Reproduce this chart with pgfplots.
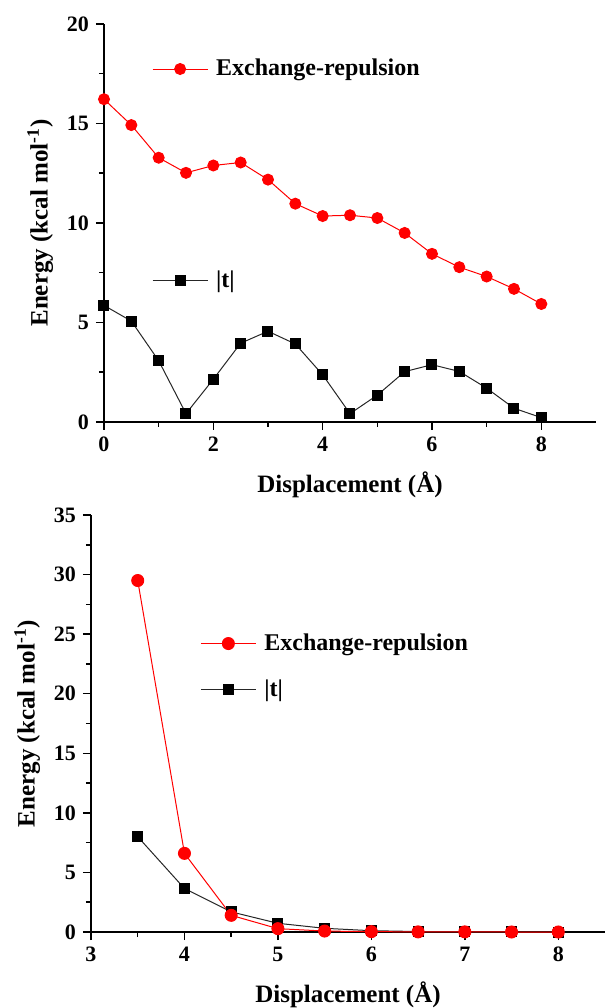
\documentclass[border=0pt]{standalone}
\usepackage{fontspec}
\setmainfont{Liberation Serif}
\usepackage{pgfplots}
\pgfplotsset{compat=1.18}

\pgfplotsset{
  panel/.style={
    scale only axis,
    axis lines=left,
    axis line style={-, line width=1pt},
    enlargelimits=false,
    clip=false,
    tick align=outside,
    major tick length=4pt,
    minor tick length=2.5pt,
    every tick/.style={line width=0.75pt, black},
    minor x tick num=1,
    minor y tick num=1,
    /pgf/number format/assume math mode=true,
    tick label style={font=\fontsize{11}{11}\selectfont\bfseries},
    label style={font=\fontsize{12.5}{12.5}\selectfont\bfseries},
    xlabel style={yshift=-3pt},
    xlabel={Displacement (Å)},
    ylabel={Energy (kcal mol\textsuperscript{-1})},
    legend image code/.code={\draw[mark repeat=2,mark phase=2,##1] plot coordinates {(0pt,0pt) (13.75pt,0pt) (27.5pt,0pt)};},
    reverse legend,
    legend cell align=left,
  },
  tser/.style={black!85, line width=0.5pt, mark=square*, mark size=2.5pt, mark options={solid, fill=black, draw=black}},
  eser/.style={red, line width=0.5pt, mark=*, mark size=2.75pt, mark options={solid, fill=red, draw=red}},
}

\begin{document}
\begin{tikzpicture}
\useasboundingbox (0,0) rectangle (303pt,504pt);

% top panel: slipping along the long axis
\begin{axis}[panel,
  at={(52pt,293pt)}, anchor=south west,
  width=246pt, height=199pt,
  xmin=0, xmax=9, ymin=0, ymax=20,
  xtick={0,2,4,6,8}, ytick={0,5,10,15,20},
  legend style={draw=none, fill=none, at={(0.097,0.621)}, anchor=west,
    inner sep=0pt, row sep=96pt, column sep=4pt,
    nodes={inner sep=0pt},
    font=\fontsize{12}{12}\selectfont\bfseries},
]
\addplot[tser] coordinates {(0,5.86) (0.5,5.07) (1,3.08) (1.5,0.42) (2,2.15) (2.5,3.96) (3,4.56) (3.5,3.92) (4,2.37) (4.5,0.42) (5,1.35) (5.5,2.53) (6,2.88) (6.5,2.54) (7,1.70) (7.5,0.69) (8,0.22)};
\addlegendentry{|t|}
\addplot[eser] coordinates {(0,16.22) (0.5,14.92) (1,13.28) (1.5,12.52) (2,12.89) (2.5,13.04) (3,12.18) (3.5,10.97) (4,10.35) (4.5,10.39) (5,10.25) (5.5,9.50) (6,8.45) (6.5,7.78) (7,7.31) (7.5,6.69) (8,5.93)};
\addlegendentry{Exchange-repulsion}
\end{axis}

% bottom panel: separation
\begin{axis}[panel,
  at={(45.5pt,38pt)}, anchor=south west,
  width=257pt, height=208.5pt,
  xmin=3, xmax=8.5, ymin=0, ymax=35,
  xtick={3,4,5,6,7,8}, ytick={0,5,10,15,20,25,30,35},
  legend style={draw=none, fill=none, at={(0.212,0.637)}, anchor=west,
    inner sep=0pt, row sep=13pt, column sep=4pt,
    nodes={inner sep=0pt},
    font=\fontsize{12}{12}\selectfont\bfseries},
]
\addplot[tser] coordinates {(3.5,8.0) (4,3.65) (4.5,1.69) (5,0.73) (5.5,0.31) (6,0.11) (6.5,0.04) (7,0.02) (7.5,0.01) (8,0.0)};
\addlegendentry{|t|}
\addplot[eser, mark size=3pt] coordinates {(3.5,29.5) (4,6.6) (4.5,1.40) (5,0.28) (5.5,0.08) (6,0.03) (6.5,0.01) (7,0.01) (7.5,0.0) (8,0.0)};
\addlegendentry{Exchange-repulsion}
\end{axis}
\end{tikzpicture}
\end{document}
